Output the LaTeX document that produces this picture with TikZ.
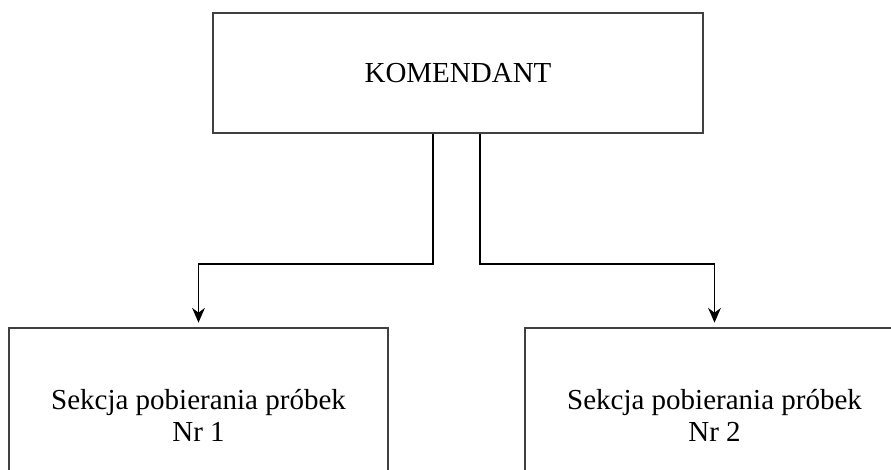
\documentclass[tikz,border=0pt]{standalone}
\usepackage{fontspec}
\setmainfont{Liberation Serif}
\usetikzlibrary{arrows.meta}
\tikzset{
  box/.style={draw=black!75, line width=1pt, fill=none, align=center, inner sep=0pt,
    font=\fontsize{21.75}{24}\selectfont},
  conn/.style={draw=black, line width=1.4pt},
  connarrow/.style={conn, -{Stealth[length=11pt,width=9.5pt,inset=3.5pt]}, shorten >=3.5pt}
}
\begin{document}
\begin{tikzpicture}[x=0.75pt,y=-0.75pt]
\clip (0,0) rectangle (891,470);
\fill[white] (0,0) rectangle (891,470);
\node[box, minimum width=367.5pt, minimum height=90pt] (top) at (458,73) {KOMENDANT};
\node[box, minimum width=284.25pt, minimum height=130.5pt] (left) at (198.5,415) {Sekcja pobierania próbek\\Nr 1};
\node[box, minimum width=284.25pt, minimum height=130.5pt] (right) at (714.5,415) {Sekcja pobierania próbek\\Nr 2};
\coordinate (j1) at (433,264);
\coordinate (j2) at (480,264);
\draw[connarrow] (top.south -| j1) -- (j1) -| (left.north);
\draw[connarrow] (top.south -| j2) -- (j2) -| (right.north);
\end{tikzpicture}
\end{document}
